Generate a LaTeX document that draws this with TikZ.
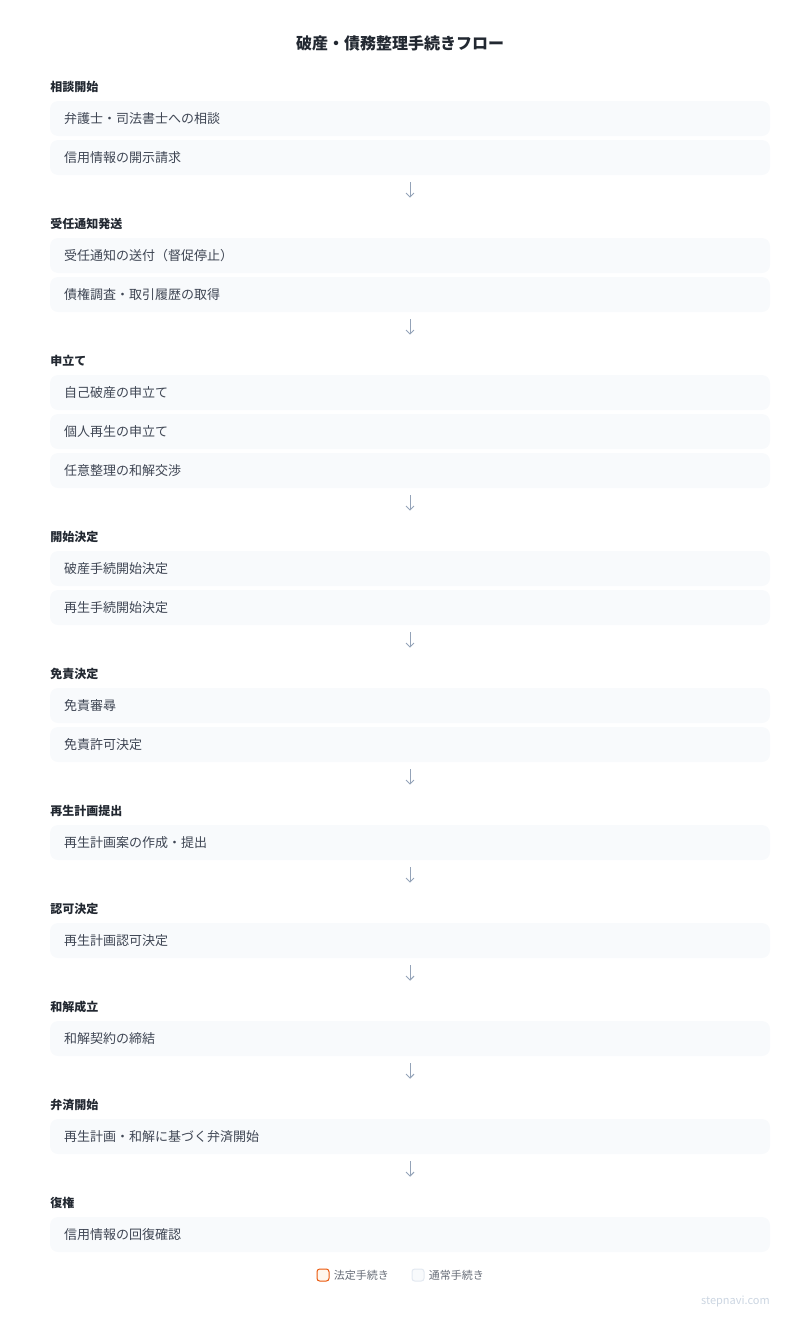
\documentclass[tikz,border=0pt]{standalone}
\usepackage{fontspec}
\setmainfont{Noto Sans CJK JP}
\usepackage{tikz}
\usetikzlibrary{
  arrows.meta,
  chains,
  positioning,
  scopes
}
\usepackage{color}
\definecolor{boxfill}{HTML}{F8FAFC}
\definecolor{boxtext}{HTML}{3F4654}
\definecolor{headtext}{HTML}{222831}
\definecolor{arrowgray}{HTML}{94A3B8}
\definecolor{legorange}{HTML}{EA580C}
\definecolor{legorangefill}{HTML}{FFF7ED}
\definecolor{leggray}{HTML}{E2E8F0}
\definecolor{marktext}{HTML}{CBD5E1}

\begin{document}
\begin{tikzpicture}[
      x=0.75pt,y=-0.75pt,
      title/.style={
         font=\bfseries\fontsize{12}{14}\selectfont,
         text=headtext
      },
      section/.style={
         anchor=west,
         inner sep=0pt,
         font=\bfseries\fontsize{9}{11}\selectfont,
         text=headtext
      },
      stepbox/.style={
         rectangle,
         rounded corners=6pt,
         fill=boxfill,
         minimum width=540pt,
         minimum height=26.25pt,
         text width=519pt,
         inner xsep=10.5pt,
         align=left,
         font=\fontsize{9.75}{12}\selectfont,
         text=boxtext
      },
      legendbox/.style={
         rectangle,
         rounded corners=2pt,
         minimum size=9pt,
         inner sep=0pt,
         line width=0.75pt
      },
      legendtext/.style={
         anchor=west,
         inner sep=0pt,
         font=\fontsize{8.25}{10}\selectfont,
         text=boxtext!80
      },
      tip/.style={
         -{Straight Barb[length=3pt,width=6pt]},
         line width=0.75pt,
         draw=arrowgray,
         shorten <=5.25pt,
         shorten >=30pt
      }
    ]
    \useasboundingbox (0,0) rectangle (800,1328);

    \node (title) [title] at (400,43) {破産・債務整理手続きフロー};

    % 相談開始
    \node (h1) [section] at (50,87) {相談開始};
    \node (b11) [stepbox] at (410,118.5) {弁護士・司法書士への相談};
    \node (b12) [stepbox] at (410,157.5) {信用情報の開示請求};

    % 受任通知発送
    \node (h2) [section] at (50,224) {受任通知発送};
    \node (b21) [stepbox] at (410,255.5) {受任通知の送付（督促停止）};
    \node (b22) [stepbox] at (410,294.5) {債権調査・取引履歴の取得};

    % 申立て
    \node (h3) [section] at (50,361) {申立て};
    \node (b31) [stepbox] at (410,392.5) {自己破産の申立て};
    \node (b32) [stepbox] at (410,431.5) {個人再生の申立て};
    \node (b33) [stepbox] at (410,470.5) {任意整理の和解交渉};

    % 開始決定
    \node (h4) [section] at (50,537) {開始決定};
    \node (b41) [stepbox] at (410,568.5) {破産手続開始決定};
    \node (b42) [stepbox] at (410,607.5) {再生手続開始決定};

    % 免責決定
    \node (h5) [section] at (50,674) {免責決定};
    \node (b51) [stepbox] at (410,705.5) {免責審尋};
    \node (b52) [stepbox] at (410,744.5) {免責許可決定};

    % 再生計画提出
    \node (h6) [section] at (50,811) {再生計画提出};
    \node (b61) [stepbox] at (410,842.5) {再生計画案の作成・提出};

    % 認可決定
    \node (h7) [section] at (50,909) {認可決定};
    \node (b71) [stepbox] at (410,940.5) {再生計画認可決定};

    % 和解成立
    \node (h8) [section] at (50,1007) {和解成立};
    \node (b81) [stepbox] at (410,1038.5) {和解契約の締結};

    % 弁済開始
    \node (h9) [section] at (50,1105) {弁済開始};
    \node (b91) [stepbox] at (410,1136.5) {再生計画・和解に基づく弁済開始};

    % 復権
    \node (h10) [section] at (50,1203) {復権};
    \node (b101) [stepbox] at (410,1234.5) {信用情報の回復確認};

  { [start chain]
       \chainin (b12);
       \chainin (b21)    [join=by tip];
  }
  { [start chain]
       \chainin (b22);
       \chainin (b31)    [join=by tip];
  }
  { [start chain]
       \chainin (b33);
       \chainin (b41)    [join=by tip];
  }
  { [start chain]
       \chainin (b42);
       \chainin (b51)    [join=by tip];
  }
  { [start chain]
       \chainin (b52);
       \chainin (b61)    [join=by tip];
  }
  { [start chain]
       \chainin (b61);
       \chainin (b71)    [join=by tip];
  }
  { [start chain]
       \chainin (b71);
       \chainin (b81)    [join=by tip];
  }
  { [start chain]
       \chainin (b81);
       \chainin (b91)    [join=by tip];
  }
  { [start chain]
       \chainin (b91);
       \chainin (b101)    [join=by tip];
  }

    % legend
    \node (l1) [legendbox, draw=legorange, fill=legorangefill] at (323,1275) {};
    \node (l1t) [legendtext, right=3pt of l1] {法定手続き};
    \node (l2) [legendbox, draw=leggray, fill=boxfill] at (418,1275) {};
    \node (l2t) [legendtext, right=3pt of l2] {通常手続き};

    \node (mark) [anchor=east, inner sep=0pt, text=marktext,
       font=\fontsize{8.25}{10}\selectfont] at (770,1301) {stepnavi.com};
\end{tikzpicture}
\end{document}
